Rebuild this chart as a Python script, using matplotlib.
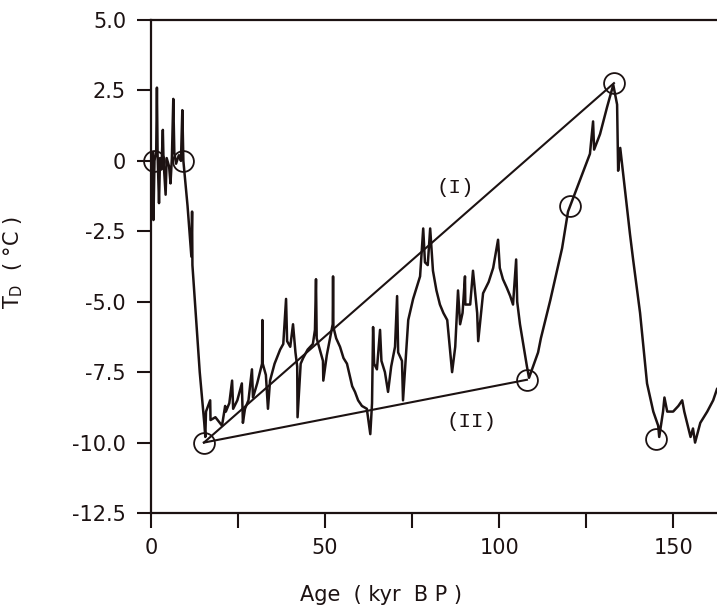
import matplotlib
matplotlib.use('Agg')
import matplotlib.pyplot as plt
from matplotlib.ticker import FixedLocator

# ---- traced record: age (kyr BP) and temperature difference T_D (deg C) ----
age = [0.0, 0.3, 0.5, 0.7, 1.0, 1.5, 1.7, 1.9, 2.3, 2.6, 3.0, 3.4, 3.6, 4.2, 4.5,
       5.2, 5.6, 6.0, 6.4, 6.7, 7.2, 8.0, 8.6, 9.0, 9.3, 10.5, 11.6, 11.8, 11.9,
       14.0, 15.3, 15.6, 15.8, 17.0, 17.1, 18.5, 20.4, 21.3, 21.5, 22.5, 23.3,
       23.6, 24.8, 26.1, 26.4, 27.0, 28.0, 29.0, 29.3, 30.5, 31.9, 32.0, 32.1,
       33.0, 33.6, 34.2, 35.5, 37.1, 38.0, 38.8, 39.1, 40.0, 40.8, 41.5, 42.0,
       42.1, 43.0, 43.7, 45.0, 46.5, 47.1, 47.4, 47.6, 48.5, 49.4, 49.5, 50.5,
       52.2, 52.3, 52.4, 53.2, 54.3, 55.3, 56.3, 57.8, 58.6, 59.5, 60.6, 62.0,
       63.0, 63.5, 63.8, 64.1, 64.9, 65.8, 66.2, 67.2, 68.1, 69.0, 70.1, 70.7,
       71.0, 72.1, 72.4, 73.9, 75.3, 76.3, 77.3, 78.2, 78.7, 79.5, 80.2, 81.0,
       82.0, 83.0, 84.0, 85.1, 86.5, 87.4, 88.2, 88.8, 89.5, 90.2, 90.3, 91.7,
       92.5, 93.7, 94.0, 95.4, 97.0, 98.3, 99.7, 100.2, 101.1, 102.2, 103.2,
       104.0, 104.9, 105.2, 106.0, 108.0, 108.6, 111.2, 112.0, 114.7, 118.1,
       119.8, 122.4, 123.5, 125.3, 126.1, 127.0, 127.3, 129.0, 131.0, 132.8,
       133.9, 134.2, 134.8, 137.6, 138.5, 140.5, 142.5, 144.3, 145.7, 146.0,
       147.1, 147.5, 148.3, 150.0, 151.5, 152.6, 153.2, 154.0, 155.0, 155.7,
       156.3, 157.8, 158.8, 159.8, 161.5, 162.6]
temp = [0.2, -1.8, 0.3, -2.1, 0.0, 0.4, 2.6, 0.2, -1.5, 0.1, -0.3, 1.1, 0.0, -1.2, 0.1,
        -0.2, -0.8, 0.1, 2.2, 0.3, -0.1, 0.2, 0.0, 1.8, 0.0, -1.6, -3.4, -1.8, -3.7,
        -7.5, -9.3, -9.8, -8.9, -8.5, -9.2, -9.1, -9.4, -8.7, -8.9, -8.6, -7.8,
        -8.8, -8.5, -7.9, -9.3, -8.8, -8.5, -7.4, -8.4, -7.9, -7.2, -5.65, -7.2,
        -7.6, -8.8, -7.8, -7.2, -6.7, -6.5, -4.9, -6.4, -6.6, -5.8, -6.8, -7.3,
        -9.1, -7.2, -7.0, -6.7, -6.5, -6.0, -4.2, -6.3, -6.7, -7.1, -7.8, -6.9,
        -5.8, -4.1, -5.9, -6.3, -6.6, -7.0, -7.2, -8.0, -8.2, -8.5, -8.7, -8.8,
        -9.7, -8.6, -5.9, -7.2, -7.4, -6.0, -7.1, -7.5, -8.2, -7.3, -6.6, -4.8,
        -6.8, -7.1, -8.5, -5.65, -4.9, -4.5, -4.1, -2.4, -3.6, -3.7, -2.4, -3.9,
        -4.6, -5.1, -5.4, -5.65, -7.5, -6.6, -4.6, -5.8, -5.4, -4.1, -5.1, -5.1,
        -3.9, -5.4, -6.4, -4.7, -4.3, -3.8, -2.8, -3.8, -4.2, -4.5, -4.8,
        -5.1, -3.5, -5.0, -5.8, -7.3, -7.7, -6.8, -6.3, -4.95, -3.1,
        -1.8, -0.95, -0.6, 0.0, 0.25, 1.4, 0.4, 0.95, 1.9, 2.7,
        2.0, -0.35, 0.46, -2.6, -3.5, -5.4, -7.9, -8.9, -9.4, -9.8,
        -8.9, -8.4, -8.9, -8.9, -8.7, -8.5, -8.9, -9.3, -9.8, -9.5,
        -10.0, -9.3, -9.1, -8.9, -8.5, -8.1]

# circled reference points
circ_age = [1.0, 9.2, 15.2, 108.0, 120.4, 133.0, 145.1]
circ_temp = [0.0, 0.0, -10.0, -7.77, -1.6, 2.76, -9.86]

# straight segments (I) and (II)
line1_age = [15.2, 133.0]
line1_temp = [-10.0, 2.76]
line2_age = [15.2, 108.0]
line2_temp = [-10.0, -7.77]

yticks = [5.0, 2.5, 0.0, -2.5, -5.0, -7.5, -10.0, -12.5]
ytick_labels = ['5.0', '2.5', '0', '-2.5', '-5.0', '-7.5', '-10.0', '-12.5']
xticks = [0, 50, 100, 150]
xminor = [25, 75, 125]

ink = '#1c1212'

fig = plt.figure(figsize=(7.17, 6.16), dpi=100)
ax = fig.add_axes([0.2106, 0.1672, 0.7894, 0.8003])

ax.plot(age, temp, color=ink, lw=1.8, solid_joinstyle='round')
ax.plot(line1_age, line1_temp, color=ink, lw=1.5)
ax.plot(line2_age, line2_temp, color=ink, lw=1.5)
ax.plot(circ_age, circ_temp, 'o', ms=15, mfc='none', mec=ink, mew=1.3, clip_on=False)

ax.text(87.4, -0.95, '(I)', fontsize=15, family='Liberation Mono', color=ink,
        ha='center', va='center')
ax.text(92.2, -9.26, '(II)', fontsize=15, family='Liberation Mono', color=ink,
        ha='center', va='center')

ax.set_xlim(0, 162.6)
ax.set_ylim(-12.5, 5.0)
ax.set_yticks(yticks)
ax.set_yticklabels(ytick_labels)
ax.set_xticks(xticks)
ax.set_xticklabels([str(v) for v in xticks])
ax.xaxis.set_minor_locator(FixedLocator(xminor))

ax.spines['right'].set_visible(False)
for s in ('left', 'top', 'bottom'):
    ax.spines[s].set_color(ink)
    ax.spines[s].set_linewidth(1.6)

ax.tick_params(axis='y', direction='out', length=10, width=1.5, pad=8,
               labelsize=15, colors=ink)
ax.tick_params(axis='x', which='both', direction='out', length=11, width=1.5, pad=7,
               labelsize=15, colors=ink)

ax.set_xlabel('Age  ( kyr  B P )', fontsize=15, color=ink)
ax.xaxis.set_label_coords(0.406, -0.146)
ax.set_ylabel(r'T$_\mathrm{D}$  ( °C )', fontsize=15, color=ink)
ax.yaxis.set_label_coords(-0.223, 0.509)

fig.savefig('out.png', dpi=100)
